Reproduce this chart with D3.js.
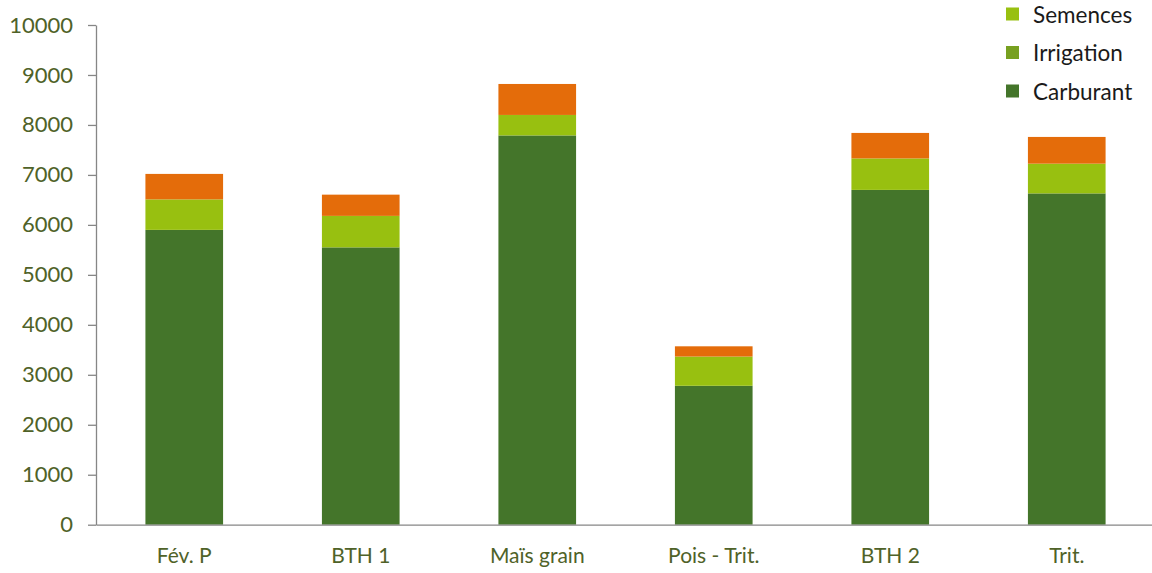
<!DOCTYPE html>
<html>
<head>
<meta charset="utf-8">
<script src="https://cdn.jsdelivr.net/npm/d3@7"></script>
<style>
  html, body { margin: 0; padding: 0; background: #fff; }
  svg { display: block; }
  text { font-family: Lato, "Open Sans", sans-serif; }
</style>
</head>
<body>
<svg id="chart" width="1152" height="573"></svg>
<script>
// Crop rotations
const categories = ["Fév. P", "BTH 1", "Maïs grain", "Pois - Trit.", "BTH 2", "Trit."];

// Stacked components, bottom to top
const carburant = [5900, 5550, 7790, 2780, 6700, 6630];
const irrigation = [0, 0, 0, 0, 0, 0];
const semences = [610, 630, 410, 585, 630, 595];
const autres = [510, 425, 620, 205, 510, 535];

const yTicks = [0, 1000, 2000, 3000, 4000, 5000, 6000, 7000, 8000, 9000, 10000];

const seriesKeys = ["Carburant", "Irrigation", "Semences", "Autres"];
const seriesValues = [carburant, irrigation, semences, autres];
const colors = {
  Carburant: "#44752A",
  Irrigation: "#77A020",
  Semences: "#98C010",
  Autres: "#E46C0A"
};
const legendKeys = ["Semences", "Irrigation", "Carburant"];

const rows = categories.map((c, i) => {
  const r = { category: c };
  seriesKeys.forEach((k, j) => { r[k] = seriesValues[j][i]; });
  return r;
});

const svg = d3.select("#chart");
const margin = { left: 96, right: 0, top: 25, bottom: 47 };
const width = 1152, height = 573;

const x = d3.scaleBand()
  .domain(categories)
  .range([margin.left, 1155])
  .paddingInner(0.56)
  .paddingOuter(0.28);

const y = d3.scaleLinear()
  .domain([0, 10000])
  .range([height - margin.bottom - 1.3, margin.top]);

const stack = d3.stack().keys(seriesKeys);
const layers = stack(rows);

svg.append("g")
  .selectAll("g")
  .data(layers)
  .join("g")
  .attr("fill", d => colors[d.key])
  .selectAll("rect")
  .data(d => d)
  .join("rect")
  .attr("x", d => x(d.data.category))
  .attr("width", x.bandwidth())
  .attr("y", d => y(d[1]))
  .attr("height", d => y(d[0]) - y(d[1]));

// Y axis
const yAxis = svg.append("g")
  .attr("transform", `translate(${margin.left},0)`)
  .call(d3.axisLeft(y).tickValues(yTicks).tickFormat(d3.format("d"))
    .tickSize(8).tickPadding(15).tickSizeOuter(0));
yAxis.select(".domain").attr("stroke", "#868686").attr("stroke-width", 1.3);
yAxis.selectAll(".tick line").attr("stroke", "#868686").attr("stroke-width", 1.3);
yAxis.selectAll(".tick text")
  .attr("fill", "#4F6228")
  .style("font-size", "22px");

// X axis
const xAxis = svg.append("g")
  .attr("transform", `translate(0,${y(0)})`)
  .call(d3.axisBottom(x).tickSize(0).tickPadding(23));
xAxis.select(".domain").attr("stroke", "#868686").attr("stroke-width", 1.3);
xAxis.selectAll(".tick text")
  .attr("fill", "#4F6228")
  .style("font-size", "21px");

// Legend
const legend = svg.append("g");
legendKeys.forEach((k, i) => {
  const cy = 14 + i * 38.5;
  legend.append("rect")
    .attr("x", 1006).attr("y", cy - 6.5)
    .attr("width", 13).attr("height", 13)
    .attr("fill", colors[k]);
  legend.append("text")
    .attr("x", 1033).attr("y", cy)
    .attr("dominant-baseline", "central")
    .attr("fill", "#1a1a1a")
    .style("font-size", "22.5px")
    .text(k);
});
</script>
</body>
</html>
